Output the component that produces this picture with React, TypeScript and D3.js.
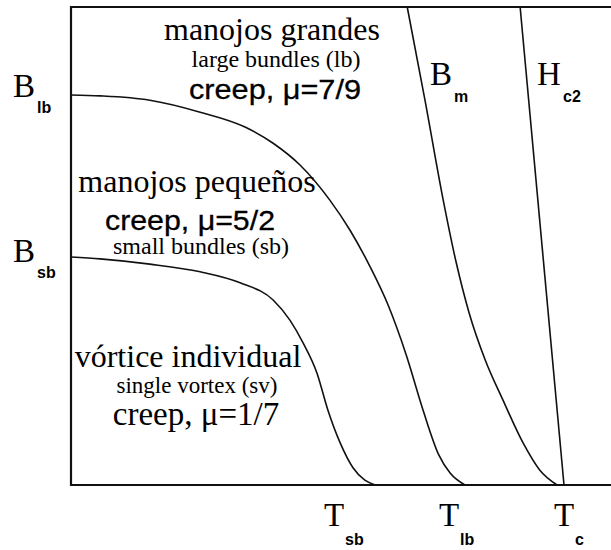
import React from "react";
import * as d3 from "d3";

// Reduced temperature t = T/Tc and reduced field b = B/B_top
const sbT = [0, 0.059, 0.16, 0.262, 0.343, 0.41, 0.444, 0.471, 0.499, 0.521, 0.546, 0.572, 0.596, 0.617];
const sbB = [0.477, 0.473, 0.462, 0.446, 0.423, 0.387, 0.345, 0.297, 0.234, 0.157, 0.088, 0.036, 0.01, 0];

const lbT = [0, 0.059, 0.16, 0.262, 0.353, 0.41, 0.465, 0.525, 0.566, 0.606, 0.643, 0.68, 0.714, 0.746, 0.769, 0.799];
const lbB = [0.816, 0.814, 0.805, 0.78, 0.749, 0.715, 0.669, 0.596, 0.533, 0.458, 0.377, 0.272, 0.157, 0.063, 0.025, 0];

const bmT = [0.682, 0.718, 0.755, 0.781, 0.807, 0.84, 0.876, 0.917, 0.951, 0.986];
const bmB = [1.0, 0.805, 0.596, 0.467, 0.362, 0.262, 0.178, 0.088, 0.031, 0];

const hc2T = [0.911, 1.0];
const hc2B = [1.0, 0];

// Region captions (Spanish heading, English gloss, creep exponent)
const largeBundle = ["manojos grandes", "large bundles (lb)", "creep, \u03bc=7/9"];
const smallBundle = ["manojos peque\u00f1os", "creep, \u03bc=5/2", "small bundles (sb)"];
const singleVortex = ["v\u00f3rtice individual", "single vortex (sv)", "creep, \u03bc=1/7"];

const W = 611;
const H = 550;
const serif = '"Liberation Serif", "DejaVu Serif", "Times New Roman", serif';
const sans = '"Liberation Sans", Arial, sans-serif';

const x = d3.scaleLinear().domain([0, 1]).range([71, 564]);
const y = d3.scaleLinear().domain([0, 1]).range([485, 7]);

const line = d3
  .line<[number, number]>()
  .x((d) => x(d[0]))
  .y((d) => y(d[1]))
  .curve(d3.curveMonotoneX);

const zip = (a: number[], b: number[]) => a.map((v, i) => [v, b[i]] as [number, number]);

const serifStyle = { fontFamily: serif };
const sansStyle = { fontFamily: sans };

function Sym({ main, sub, xm, ym, dx, dy }: { main: string; sub: string; xm: number; ym: number; dx: number; dy: number }) {
  return (
    <g>
      <text x={xm} y={ym} style={serifStyle} fontSize={33}>{main}</text>
      <text x={xm + dx} y={ym + dy} style={sansStyle} fontSize={16} fontWeight="bold">{sub}</text>
    </g>
  );
}

export default function App() {
  const curves = [zip(sbT, sbB), zip(lbT, lbB), zip(bmT, bmB), zip(hc2T, hc2B)];
  const x0 = x(0);
  const xr = W;
  const yt = y(1);
  const yb = y(0);
  return (
    <svg width={W} height={H} style={{ position: "absolute", left: 0, top: 0, background: "#fff" }}>
      <rect width={W} height={H} fill="#fff" />
      {/* frame: top, left and bottom edges */}
      <path d={`M${xr},${yt}H${x0}V${yb}H${xr}`} fill="none" stroke="#111" strokeWidth={2.2} />
      {curves.map((c, i) => (
        <path key={i} d={line(c) || ""} fill="none" stroke="#111" strokeWidth={1.6} />
      ))}

      {/* large-bundle region */}
      <text x={272} y={40} textAnchor="middle" style={serifStyle} fontSize={32}>{largeBundle[0]}</text>
      <text x={276} y={67} textAnchor="middle" style={serifStyle} fontSize={24}>{largeBundle[1]}</text>
      <text x={189} y={99} style={sansStyle} fontSize={28} stroke="#000" strokeWidth={0.3} textLength={172} lengthAdjust="spacingAndGlyphs">{largeBundle[2]}</text>

      {/* small-bundle region */}
      <text x={197} y={192} textAnchor="middle" style={serifStyle} fontSize={32}>{smallBundle[0]}</text>
      <text x={105} y={230} style={sansStyle} fontSize={28} stroke="#000" strokeWidth={0.3} textLength={170} lengthAdjust="spacingAndGlyphs">{smallBundle[1]}</text>
      <text x={201} y={254} textAnchor="middle" style={serifStyle} fontSize={24}>{smallBundle[2]}</text>

      {/* single-vortex region */}
      <text x={188} y={367} textAnchor="middle" style={serifStyle} fontSize={32}>{singleVortex[0]}</text>
      <text x={197} y={393} textAnchor="middle" style={serifStyle} fontSize={23}>{singleVortex[1]}</text>
      <text x={196} y={425} textAnchor="middle" style={serifStyle} fontSize={33}>{singleVortex[2]}</text>

      {/* field labels */}
      <Sym main="B" sub="lb" xm={13} ym={y(lbB[0]) + 2} dx={24} dy={16} />
      <Sym main="B" sub="sb" xm={13} ym={y(sbB[0]) + 5} dx={24} dy={16} />
      <Sym main="B" sub="m" xm={430} ym={85} dx={24} dy={17} />
      <Sym main="H" sub="c2" xm={537} ym={85} dx={26} dy={17} />

      {/* temperature labels */}
      <Sym main="T" sub="sb" xm={324} ym={526} dx={21} dy={19} />
      <Sym main="T" sub="lb" xm={439} ym={526} dx={21} dy={19} />
      <Sym main="T" sub="c" xm={554} ym={526} dx={21} dy={19} />
    </svg>
  );
}
